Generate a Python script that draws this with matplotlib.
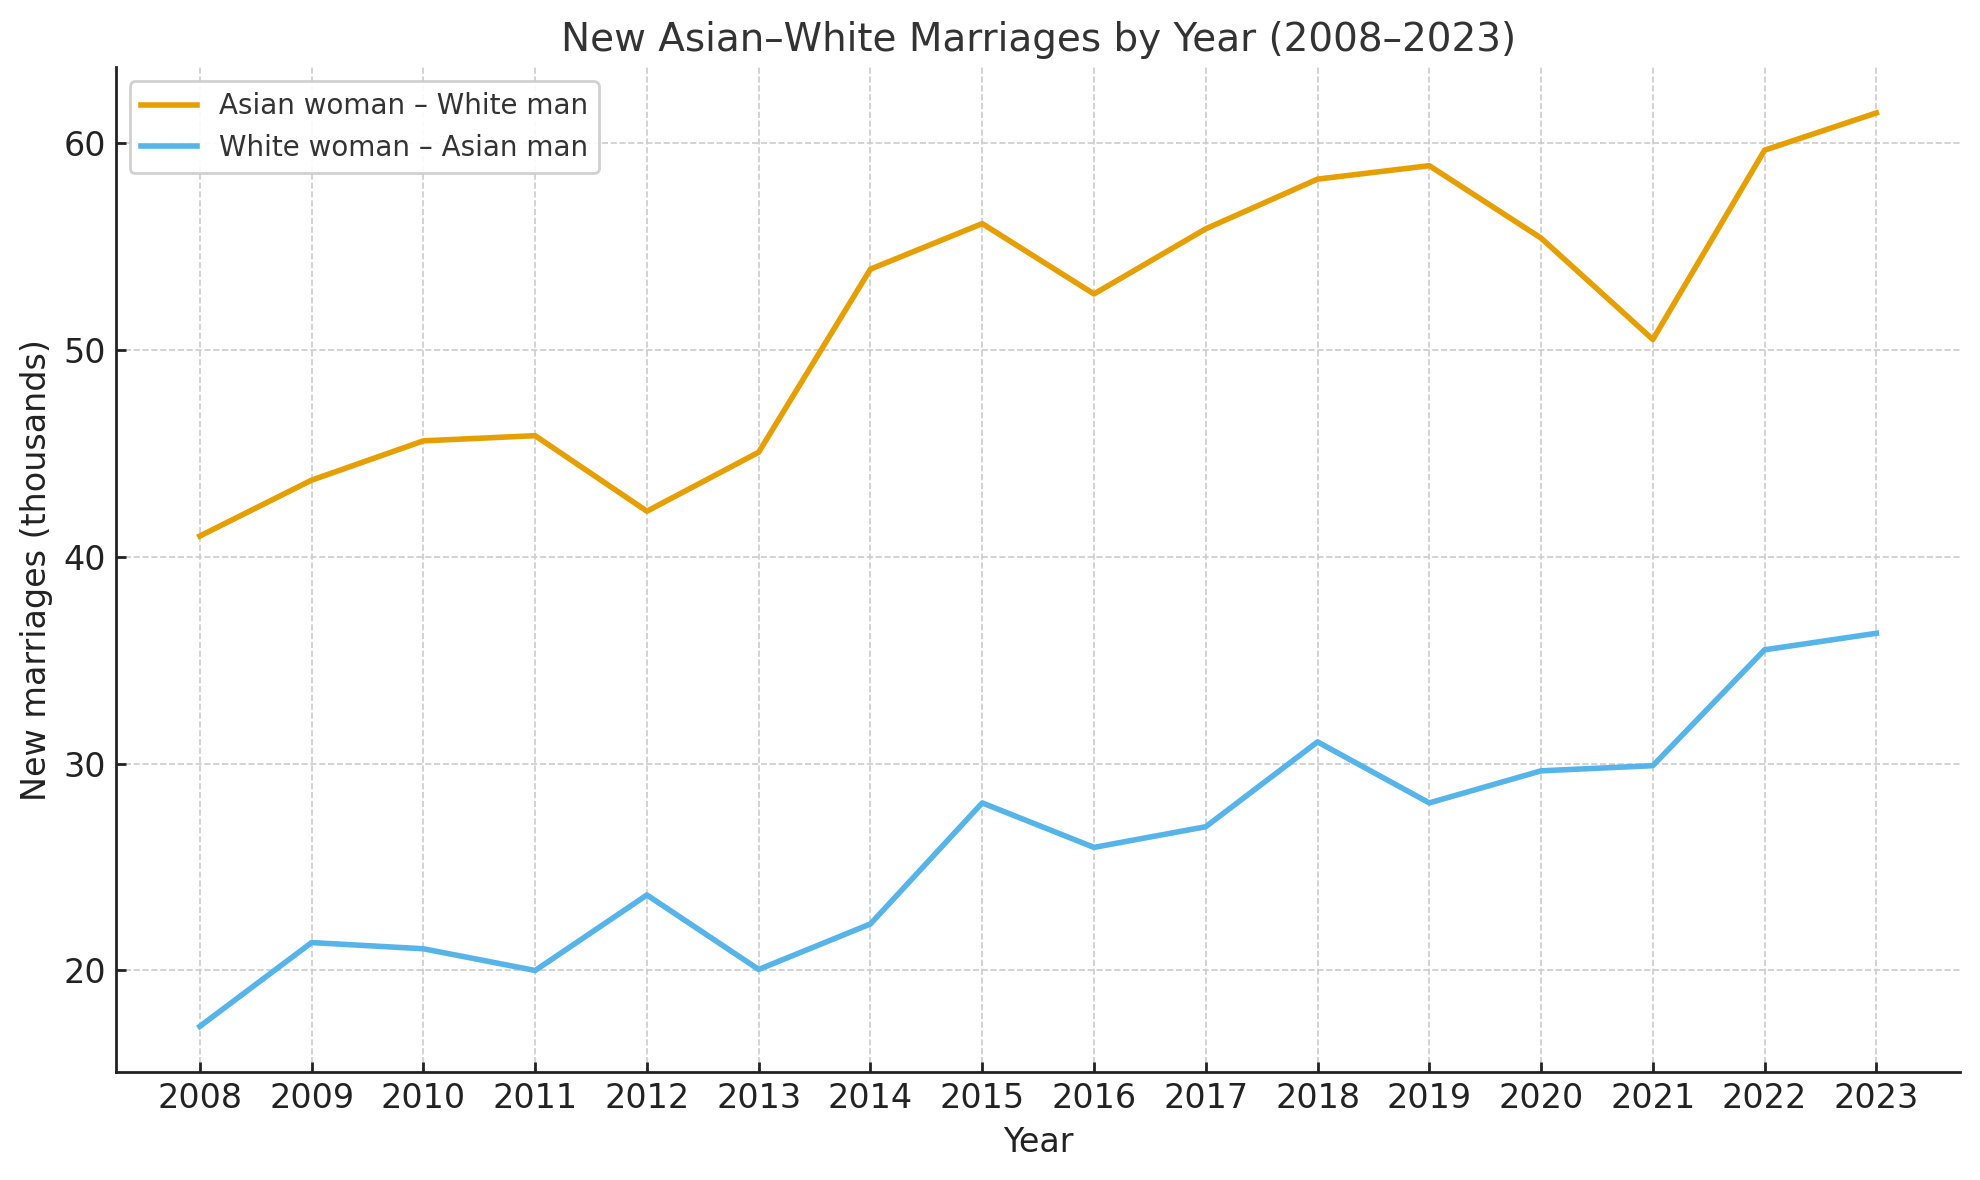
import matplotlib
matplotlib.use("Agg")
import matplotlib.pyplot as plt

years = list(range(2008, 2024))
asian_woman_white_man = [41.0, 43.7, 45.6, 45.85, 42.2, 45.05, 53.9, 56.1, 52.7,
                         55.85, 58.25, 58.9, 55.4, 50.5, 59.65, 61.45]
white_woman_asian_man = [17.3, 21.35, 21.05, 20.0, 23.65, 20.05, 22.25, 28.1, 25.95,
                         26.95, 31.05, 28.1, 29.65, 29.9, 35.5, 36.3]

fig = plt.figure(figsize=(9.9, 5.9), dpi=200)
ax = fig.add_subplot(111)
fig.subplots_adjust(left=0.0586, right=0.990, top=0.943, bottom=0.0915)

ax.plot(years, asian_woman_white_man, color='#E69F00', linewidth=2.0, label='Asian woman – White man')
ax.plot(years, white_woman_asian_man, color='#56B4E9', linewidth=2.0, label='White woman – Asian man')

ax.set_xticks(years)
ax.set_yticks([20, 30, 40, 50, 60])
ax.tick_params(labelsize=12, colors='#222222', width=1.0, direction='in')
ax.grid(True, linestyle='--', linewidth=0.6, color='#cccccc')
ax.set_axisbelow(True)
for side in ['top', 'right']:
    ax.spines[side].set_visible(False)
for side in ['left', 'bottom']:
    ax.spines[side].set_color('#222222')
    ax.spines[side].set_linewidth(1.0)

ax.set_xlabel('Year', fontsize=12, color='#222222')
ax.set_ylabel('New marriages (thousands)', fontsize=12, color='#222222')
ax.set_title('New Asian–White Marriages by Year (2008–2023)', fontsize=14, color='#333333')

leg = ax.legend(loc='upper left', fontsize=10, framealpha=0.9)
for t in leg.get_texts():
    t.set_color('#333333')

plt.savefig('out.png', dpi=200)
